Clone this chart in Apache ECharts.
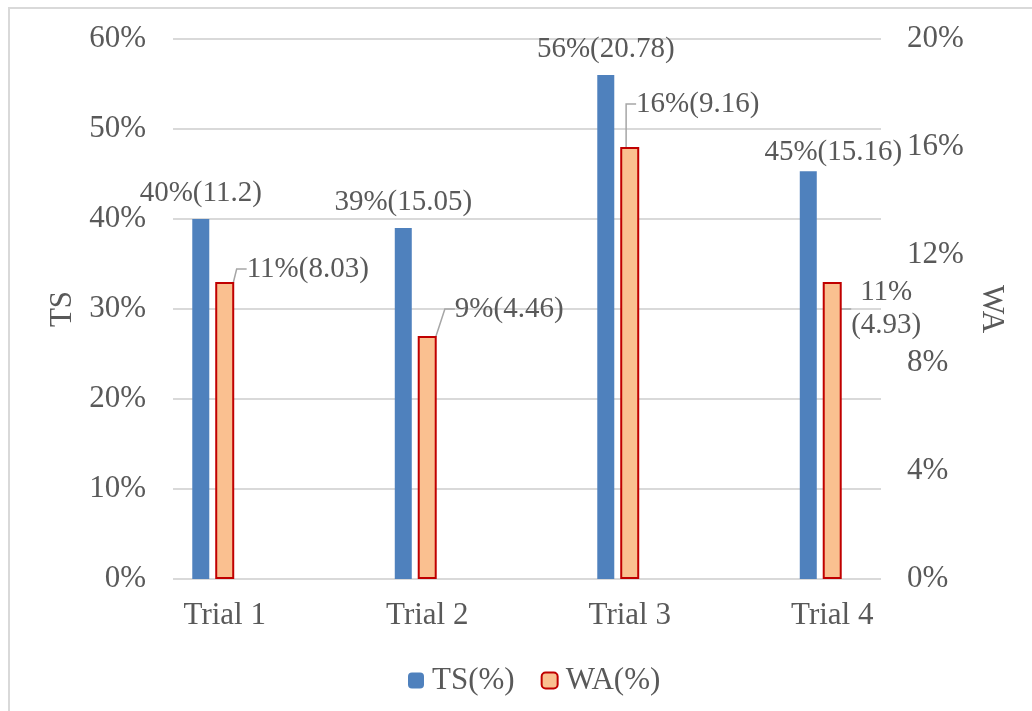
<!DOCTYPE html>
<html><head><meta charset="utf-8">
<script src="https://cdn.jsdelivr.net/npm/echarts@6/dist/echarts.min.js"></script>
<style>html,body{margin:0;padding:0;background:#fff}#c{width:1032px;height:711px}</style>
</head><body><div id="c"></div>
<script>
// ---- data ----
const categories = ['Trial 1', 'Trial 2', 'Trial 3', 'Trial 4'];
const tsValues = [40, 39, 56, 45.3];
const waValues = [11, 9, 16, 11];
const tsLabels = ['40%(11.2)', '39%(15.05)', '56%(20.78)', '45%(15.16)'];
const waLabels = ['11%(8.03)', '9%(4.46)', '16%(9.16)', '11%\n(4.93)'];
const tsTicks = [0, 10, 20, 30, 40, 50, 60];
const waTicks = [0, 4, 8, 12, 16, 20];
const seriesNames = ['TS(%)', 'WA(%)'];
const axisNames = ['TS', 'WA'];

// ---- layout / style ----
const FONT = 'Liberation Serif';
const TXT = '#595959';
const GRIDC = '#d9d9d9';
const waLabelShift = [[83, -13], [82, -27], [68, -43], [54, 27]];

const chart = echarts.init(document.getElementById('c'), null, {renderer: 'canvas'});
const tsMin = tsTicks[0], tsMax = tsTicks[tsTicks.length - 1], tsInt = tsTicks[1] - tsTicks[0];
const waMin = waTicks[0], waMax = waTicks[waTicks.length - 1], waInt = waTicks[1] - waTicks[0];

const option = {
  animation: false,
  backgroundColor: '#fff',
  textStyle: {fontFamily: FONT, color: TXT},
  graphic: [{
    type: 'rect', shape: {x: 9, y: 8, width: 1200, height: 900},
    style: {fill: 'none', stroke: GRIDC, lineWidth: 2}, silent: true
  }],
  legend: {
    data: seriesNames, left: 403, top: 660, itemWidth: 16, itemHeight: 16, itemGap: 26,
    textStyle: {fontFamily: FONT, fontSize: 31, color: TXT, padding: [0, 0, 0, 3]}
  },
  grid: [
    {left: 112, right: 110, top: 39, bottom: 132},
    {left: 173, right: 151, top: 39, bottom: 132}
  ],
  xAxis: [
    {
      type: 'category', gridIndex: 0, data: categories,
      axisLine: {show: false}, axisTick: {show: false}, splitLine: {show: false},
      axisLabel: {fontFamily: FONT, fontSize: 31, color: TXT, margin: 21, padding: [0, 0, 0, 23]}
    },
    {type: 'category', gridIndex: 1, data: categories, show: false}
  ],
  yAxis: [
    {type: 'value', gridIndex: 0, min: tsMin, max: tsMax, interval: tsInt, show: false},
    {type: 'value', gridIndex: 0, min: waMin, max: waMax, interval: waInt, show: false},
    {
      type: 'value', gridIndex: 1, position: 'left', min: tsMin, max: tsMax, interval: tsInt,
      name: axisNames[0], nameLocation: 'middle', nameRotate: 90, nameGap: 94,
      nameTextStyle: {fontFamily: FONT, fontSize: 31, color: TXT},
      axisLine: {show: false}, axisTick: {show: false},
      splitLine: {show: true, lineStyle: {color: GRIDC, width: 2}},
      axisLabel: {fontFamily: FONT, fontSize: 31, color: TXT, margin: 27, formatter: v => v + '%'}
    },
    {
      type: 'value', gridIndex: 1, position: 'right', min: waMin, max: waMax, interval: waInt,
      name: axisNames[1], nameLocation: 'middle', nameRotate: -90, nameGap: 95,
      nameTextStyle: {fontFamily: FONT, fontSize: 31, color: TXT},
      axisLine: {show: false}, axisTick: {show: false}, splitLine: {show: false},
      axisLabel: {fontFamily: FONT, fontSize: 31, color: TXT, margin: 26, formatter: v => v + '%'}
    }
  ],
  series: [
    {
      name: seriesNames[0], type: 'bar', xAxisIndex: 0, yAxisIndex: 0,
      barWidth: 17, barGap: '35%',
      itemStyle: {color: '#4f81bd'},
      data: tsValues.map((v, i) => ({
        value: v,
        label: i === 3 ? {offset: [25, 7]} : {}
      })),
      label: {
        show: true, position: 'top', distance: 11,
        fontFamily: FONT, fontSize: 29, color: TXT,
        formatter: p => tsLabels[p.dataIndex]
      }
    },
    {
      name: seriesNames[1], type: 'bar', xAxisIndex: 0, yAxisIndex: 1,
      barWidth: 19,
      itemStyle: {color: '#fac090', borderColor: '#c00000', borderWidth: 2},
      data: waValues,
      label: {
        show: true, position: 'top',
        fontFamily: FONT, fontSize: 29, color: TXT, lineHeight: 33, align: 'center',
        formatter: p => waLabels[p.dataIndex]
      },
      labelLine: {show: true, length2: 10, lineStyle: {color: '#a6a6a6', width: 1.5}},
      labelLayout: function (p) {
        const s = waLabelShift[p.dataIndex];
        return {
          x: p.rect.x + p.rect.width / 2 + s[0],
          y: p.rect.y + s[1],
          align: 'center', verticalAlign: 'middle'
        };
      }
    }
  ]
};
chart.setOption(option);
</script>
</body></html>
